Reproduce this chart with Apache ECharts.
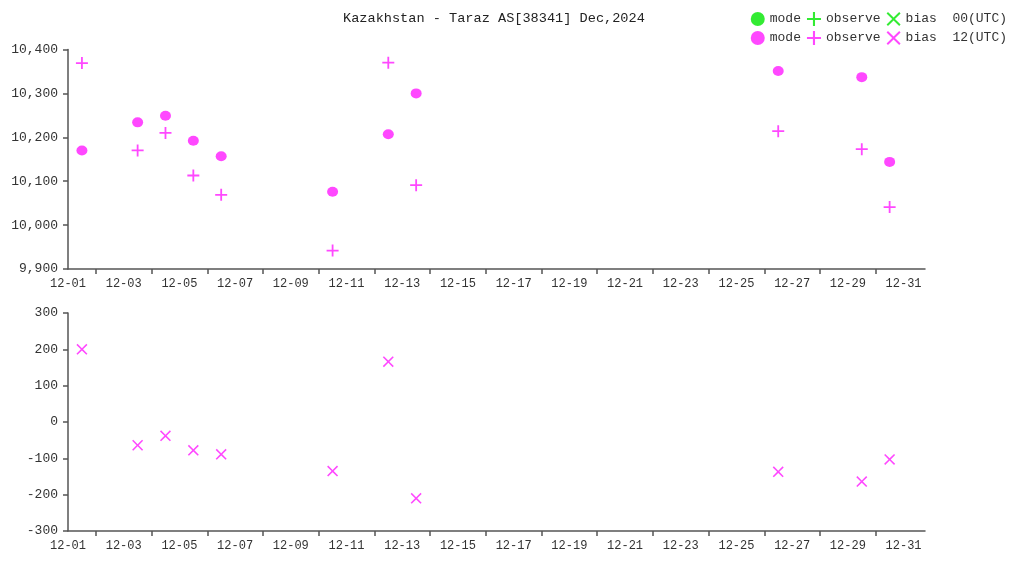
<!DOCTYPE html>
<html>
<head>
<meta charset="utf-8">
<script src="https://cdn.jsdelivr.net/npm/echarts@6/dist/echarts.min.js"></script>
<style>html,body{margin:0;padding:0;background:#fff}#c{width:1016px;height:561px}</style>
</head>
<body>
<div id="c"></div>
<script>
// ---- data ----
const titleText = 'Kazakhstan - Taraz AS[38341] Dec,2024';
const days = [1, 3, 4, 5, 6, 10, 12, 13, 26, 29, 30];   // day of December, 12 UTC
const hourUTC = 12;
const mode12 = [10170, 10234, 10249, 10192, 10157, 10076, 10207, 10300, 10351, 10337, 10144];
const observe12 = [10369, 10170, 10210, 10113, 10069, 9942, 10370, 10091, 10214, 10173, 10041];
const bias12 = [200, -64, -38, -78, -89, -135, 166, -210, -137, -164, -103];
const mode00 = [], observe00 = [], bias00 = [];
const xLabelDays = [1,3,5,7,9,11,13,15,17,19,21,23,25,27,29,31];
const xTickDays = [2,4,6,8,10,12,14,16,18,20,22,24,26,28,30];

const MAG = '#ff1aff', GRN = '#00e600';
const FONT = 'Liberation Mono';
const PLUS = 'path://M5.1,0H6.9V5.1H12V6.9H6.9V12H5.1V6.9H0V5.1H5.1Z';
const d = 1.2;
const CROSS = `path://M${d},0L6,${6-d}L${12-d},0L12,${d}L${6+d},6L12,${12-d}L${12-d},12L6,${6+d}L${d},12L0,${12-d}L${6-d},6L0,${d}Z`;

const xPos = day => day - 1 + hourUTC / 24;
const pairs = vals => vals.map((v, i) => [xPos(days[i]), v]);

function xAxis(gi) {
  return {
    type: 'value', gridIndex: gi, min: 0, max: 30.77,
    axisLine: {show: true, onZero: false, lineStyle: {color: '#555', width: 1.5}},
    axisTick: {show: true, length: 5, customValues: xTickDays.map(v => v - 1), lineStyle: {color: '#555', width: 1.5}},
    axisLabel: {customValues: xLabelDays.map(v => v - 1), color: '#333', fontFamily: FONT, fontSize: 12, margin: 9,
      formatter: v => '12-' + String(Math.round(v) + 1).padStart(2, '0')},
    splitLine: {show: false}
  };
}
function yAxis(gi, min, max, fmt) {
  return {
    type: 'value', gridIndex: gi, min: min, max: max, interval: 100,
    axisLine: {show: true, lineStyle: {color: '#555', width: 1.5}},
    axisTick: {show: true, length: 5, lineStyle: {color: '#555', width: 1.5}},
    axisLabel: {color: '#333', fontFamily: FONT, fontSize: 13, margin: 10, formatter: fmt},
    splitLine: {show: false}
  };
}
const legendCommon = {
  right: 4, itemGap: 6, itemWidth: 14, itemHeight: 14, selectedMode: false,
  textStyle: {fontFamily: FONT, fontSize: 13, color: '#333'}
};

const chart = echarts.init(document.getElementById('c'));
chart.setOption({
  animation: false,
  title: {text: titleText, left: 338, top: 6,
    textStyle: {fontFamily: FONT, fontSize: 13.6, fontWeight: 'normal', color: '#222'}},
  legend: [
    Object.assign({top: 7, data: [
      {name: 'mode 00', icon: 'circle'}, {name: 'observe 00', icon: PLUS}, {name: 'bias 00', icon: CROSS}],
      formatter: n => n === 'bias 00' ? 'bias  00(UTC)' : n.split(' ')[0]}, legendCommon),
    Object.assign({top: 26, data: [
      {name: 'mode 12', icon: 'circle'}, {name: 'observe 12', icon: PLUS}, {name: 'bias 12', icon: CROSS}],
      formatter: n => n === 'bias 12' ? 'bias  12(UTC)' : n.split(' ')[0]}, legendCommon)
  ],
  grid: [
    {left: 68, right: 91, top: 49.5, height: 219.5},
    {left: 68, right: 91, top: 313, height: 218}
  ],
  xAxis: [xAxis(0), xAxis(1)],
  yAxis: [
    yAxis(0, 9900, 10400, v => v.toLocaleString('en-US')),
    yAxis(1, -300, 300, v => String(v))
  ],
  series: [
    {name: 'mode 00', type: 'scatter', xAxisIndex: 0, yAxisIndex: 0, symbol: 'circle', symbolSize: [11, 10], itemStyle: {color: GRN}, data: pairs(mode00)},
    {name: 'observe 00', type: 'scatter', xAxisIndex: 0, yAxisIndex: 0, symbol: PLUS, symbolSize: 12, itemStyle: {color: GRN}, data: pairs(observe00)},
    {name: 'bias 00', type: 'scatter', xAxisIndex: 1, yAxisIndex: 1, symbol: CROSS, symbolSize: 11, itemStyle: {color: GRN}, data: pairs(bias00)},
    {name: 'mode 12', type: 'scatter', xAxisIndex: 0, yAxisIndex: 0, symbol: 'circle', symbolSize: [11, 10], itemStyle: {color: MAG}, data: pairs(mode12)},
    {name: 'observe 12', type: 'scatter', xAxisIndex: 0, yAxisIndex: 0, symbol: PLUS, symbolSize: 12, itemStyle: {color: MAG}, data: pairs(observe12)},
    {name: 'bias 12', type: 'scatter', xAxisIndex: 1, yAxisIndex: 1, symbol: CROSS, symbolSize: 11, itemStyle: {color: MAG}, data: pairs(bias12)}
  ]
});
</script>
</body>
</html>
